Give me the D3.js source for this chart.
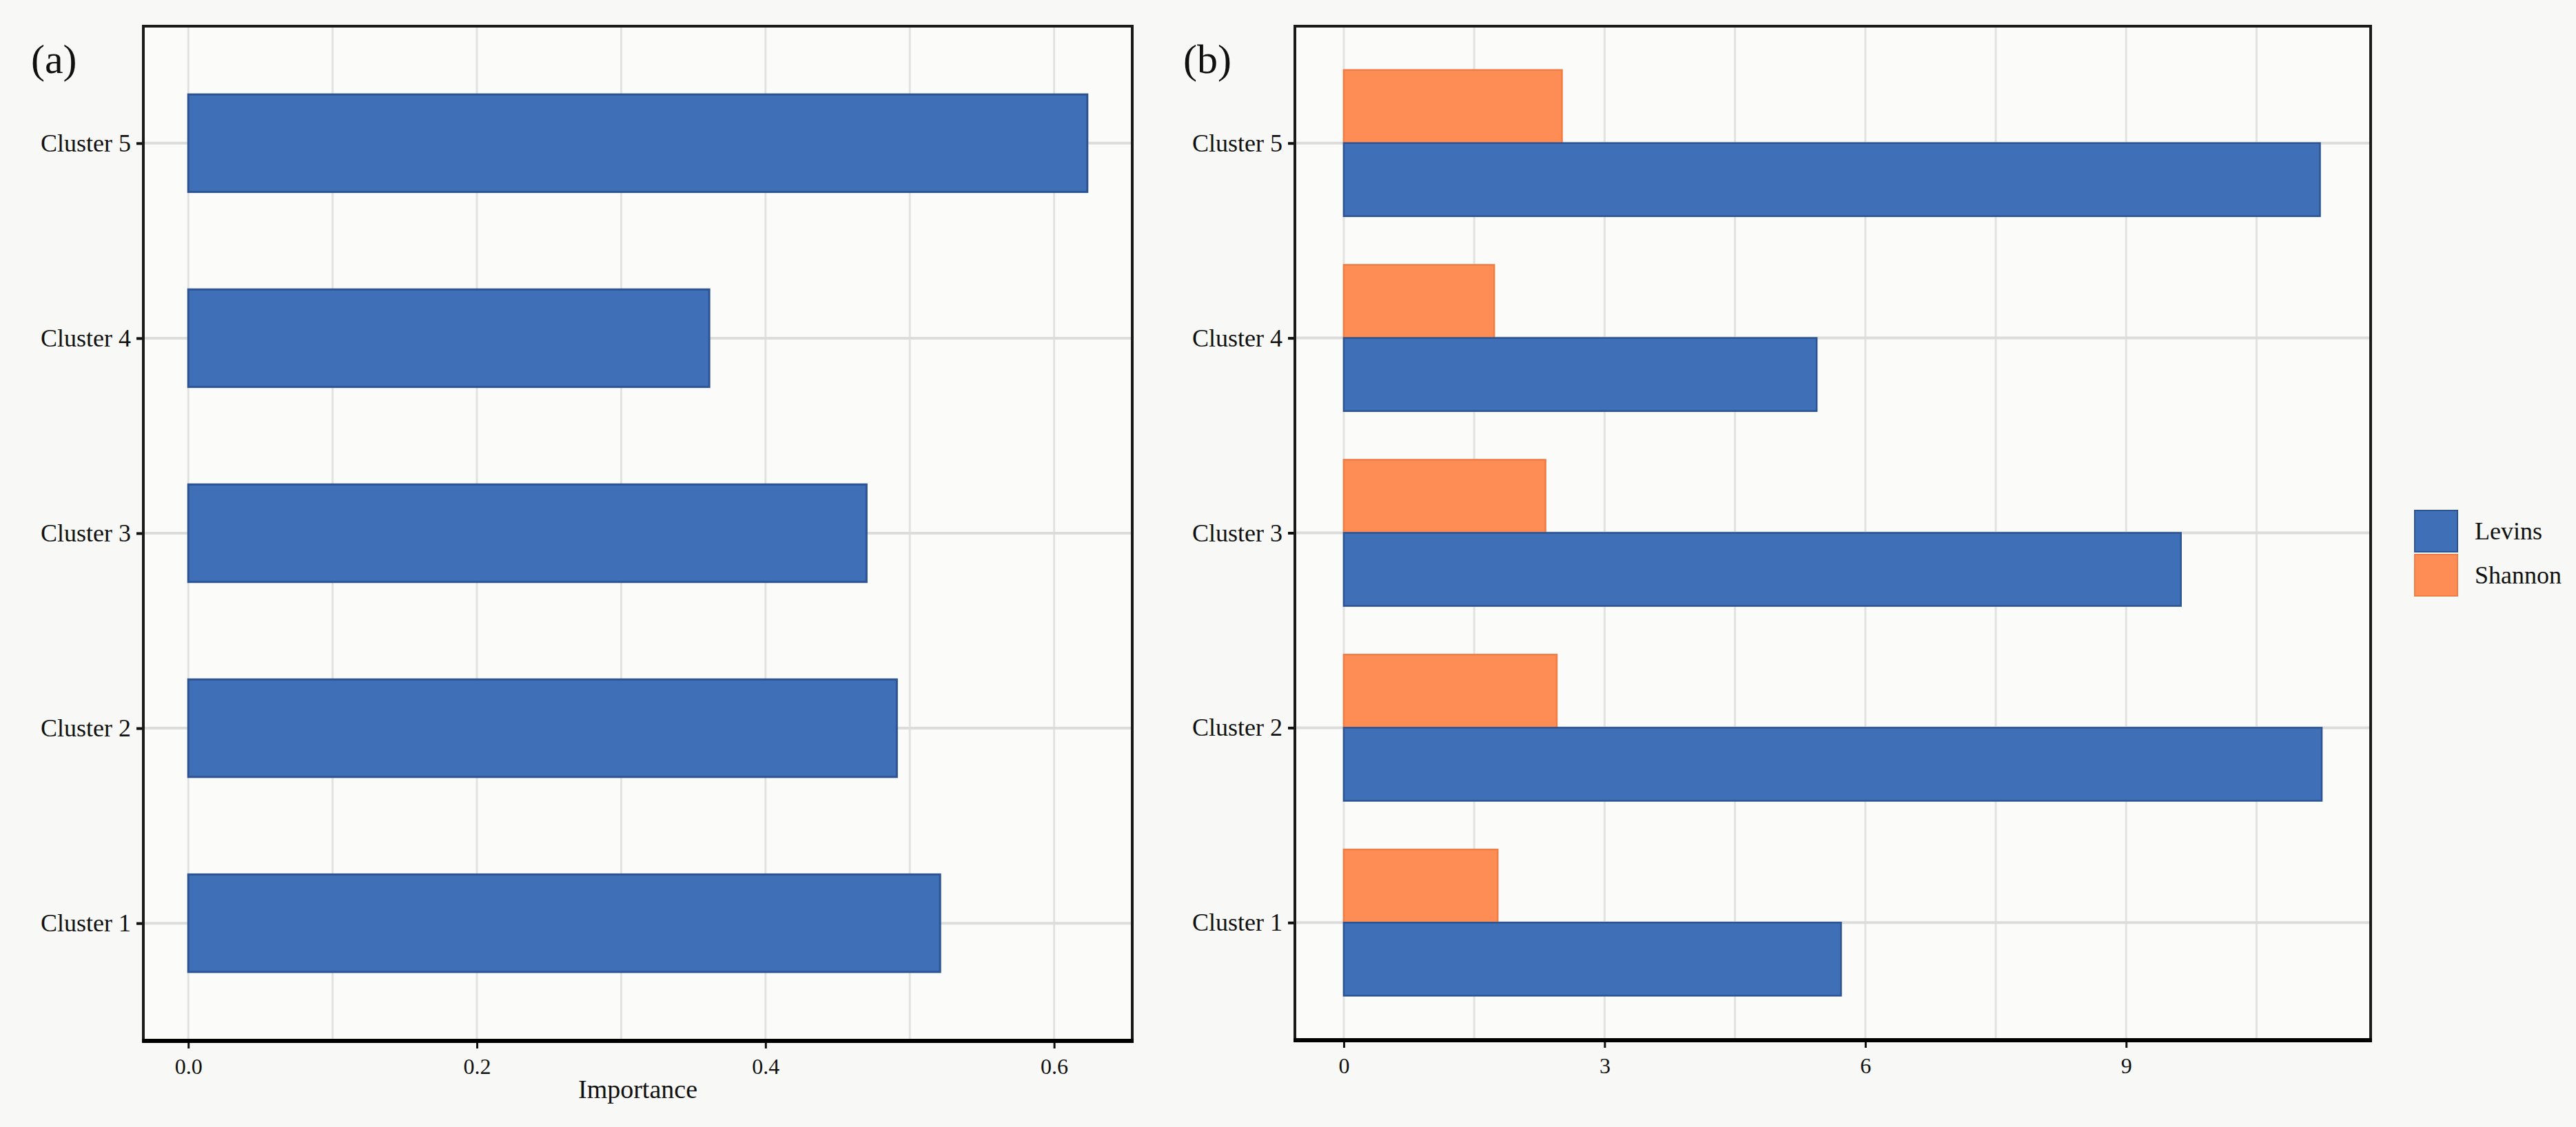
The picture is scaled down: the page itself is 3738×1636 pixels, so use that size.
<!DOCTYPE html>
<html>
<head>
<meta charset="utf-8">
<script src="https://cdn.jsdelivr.net/npm/d3@7"></script>
<style>
    body { margin: 0; background: #f8f8f6; }
    svg { display: block; }
    text { font-family: "Liberation Serif", "DejaVu Serif", serif; fill: #111; }
</style>
</head>
<body>
<svg id="chart" width="3738" height="1636"></svg>
<script>
// values
var clusters = ['Cluster 5', 'Cluster 4', 'Cluster 3', 'Cluster 2', 'Cluster 1'];
var importance = [0.623, 0.361, 0.470, 0.491, 0.521];
var levins = [11.23, 5.44, 9.63, 11.25, 5.72];
var shannon = [2.51, 1.73, 2.32, 2.45, 1.77];
var series = ['Shannon', 'Levins'];
var legendOrder = ['Levins', 'Shannon'];
var importanceTicks = [0, 0.2, 0.4, 0.6];
var importanceMinor = [0.1, 0.3, 0.5];
var breadthTicks = [0, 3, 6, 9];
var breadthMinor = [1.5, 4.5, 7.5, 10.5];

var colors = { Levins: '#3f6fb6', Shannon: '#fd8c55' };
var strokes = { Levins: '#2c5493', Shannon: '#f07d44' };

var svg = d3.select('#chart');

function translate(x, y) {
    return 'translate(' + x + ',' + y + ')';
}

// ggplot-like 5% expansion of a continuous domain
function expand(lo, hi) {
    var pad = (hi - lo) * 0.05;
    return [lo - pad, hi + pad];
}

function panel(box, xDomain, ticks, minor, fmt) {
    var g = svg.append('g');
    var x = d3.scaleLinear().domain(xDomain).range([box.left, box.right]);
    var y = d3.scalePoint().domain(clusters).range([box.top, box.bottom]).padding(0.6);

    g.append('rect')
        .attr('x', box.left).attr('y', box.top)
        .attr('width', box.right - box.left)
        .attr('height', box.bottom - box.top)
        .attr('fill', '#fbfbfa');

    var grid = g.append('g');
    grid.selectAll('line.v').data(ticks.concat(minor)).enter()
        .append('line')
        .attr('x1', d => x(d)).attr('x2', d => x(d))
        .attr('y1', box.top).attr('y2', box.bottom)
        .attr('stroke', '#e2e2e0')
        .attr('stroke-width', 3);
    grid.selectAll('line.h').data(clusters).enter()
        .append('line')
        .attr('x1', box.left).attr('x2', box.right)
        .attr('y1', d => y(d)).attr('y2', d => y(d))
        .attr('stroke', '#dcdcda')
        .attr('stroke-width', 4);

    var bars = g.append('g');

    // x axis
    var xAxis = d3.axisBottom(x)
        .tickValues(ticks)
        .tickFormat(fmt)
        .tickSize(12)
        .tickPadding(14);
    var xg = g.append('g')
        .attr('transform', translate(0, box.bottom))
        .call(xAxis);
    xg.select('.domain').remove();
    xg.selectAll('.tick line').attr('stroke', '#111').attr('stroke-width', 3);
    xg.selectAll('.tick text')
        .attr('font-size', 32)
        .attr('font-family', '"Liberation Serif", serif')
        .attr('fill', '#111');

    // y axis
    var yAxis = d3.axisLeft(y).tickSize(10).tickPadding(8);
    var yg = g.append('g')
        .attr('transform', translate(box.left, 0))
        .call(yAxis);
    yg.select('.domain').remove();
    yg.selectAll('.tick line').attr('stroke', '#111').attr('stroke-width', 4);
    yg.selectAll('.tick text')
        .attr('font-size', 36)
        .attr('font-family', '"Liberation Serif", serif')
        .attr('fill', '#111');

    // frame; the bottom edge is a touch heavier
    g.append('rect')
        .attr('x', box.left).attr('y', box.top)
        .attr('width', box.right - box.left)
        .attr('height', box.bottom - box.top)
        .attr('fill', 'none')
        .attr('stroke', '#1a1a1a')
        .attr('stroke-width', 4);
    g.append('line')
        .attr('x1', box.left - 2).attr('x2', box.right + 2)
        .attr('y1', box.bottom + 1).attr('y2', box.bottom + 1)
        .attr('stroke', '#000')
        .attr('stroke-width', 6);

    return { g: g, bars: bars, x: x, y: y };
}

// (a) importance
var boxA = { left: 208, right: 1643, top: 38, bottom: 1510 };
var pa = panel(boxA, expand(0, d3.max(importance)), importanceTicks, importanceMinor, d3.format('.1f'));
var bandA = pa.y.step() * 0.5;
pa.bars.selectAll('rect').data(clusters).enter()
    .append('rect')
    .attr('x', pa.x(0))
    .attr('y', d => pa.y(d) - bandA / 2)
    .attr('width', (d, i) => pa.x(importance[i]) - pa.x(0))
    .attr('height', bandA)
    .attr('fill', colors.Levins)
    .attr('stroke', strokes.Levins)
    .attr('stroke-width', 3);

pa.g.append('text')
    .attr('x', (boxA.left + boxA.right) / 2)
    .attr('y', 1594)
    .attr('text-anchor', 'middle')
    .attr('font-size', 38)
    .text('Importance');

svg.append('text')
    .attr('x', 45).attr('y', 106)
    .attr('font-size', 60)
    .text('(a)');

// (b) niche breadth
var boxB = { left: 1879, right: 3440, top: 38, bottom: 1509 };
var pb = panel(boxB, expand(0, d3.max(levins)), breadthTicks, breadthMinor, d3.format('d'));
var sub = d3.scaleBand()
    .domain(series)
    .range([-pb.y.step() * 0.375, pb.y.step() * 0.375]);
var table = [];
clusters.forEach(function (c, i) {
    table.push({ cluster: c, key: 'Shannon', value: shannon[i] });
    table.push({ cluster: c, key: 'Levins', value: levins[i] });
});
pb.bars.selectAll('rect').data(table).enter()
    .append('rect')
    .attr('x', pb.x(0))
    .attr('y', d => pb.y(d.cluster) + sub(d.key))
    .attr('width', d => pb.x(d.value) - pb.x(0))
    .attr('height', sub.bandwidth())
    .attr('fill', d => colors[d.key])
    .attr('stroke', d => strokes[d.key])
    .attr('stroke-width', 2.5);

svg.append('text')
    .attr('x', 1717).attr('y', 106)
    .attr('font-size', 60)
    .text('(b)');

// legend
var legend = svg.append('g').attr('transform', translate(3504, 741));
var item = legend.selectAll('g').data(legendOrder).enter()
    .append('g')
    .attr('transform', (d, i) => translate(0, i * 64));
item.append('rect')
    .attr('width', 62).attr('height', 60)
    .attr('fill', d => colors[d])
    .attr('stroke', d => strokes[d])
    .attr('stroke-width', 2);
item.append('text')
    .attr('x', 87).attr('y', 42)
    .attr('font-size', 36)
    .text(d => d);
</script>
</body>
</html>
